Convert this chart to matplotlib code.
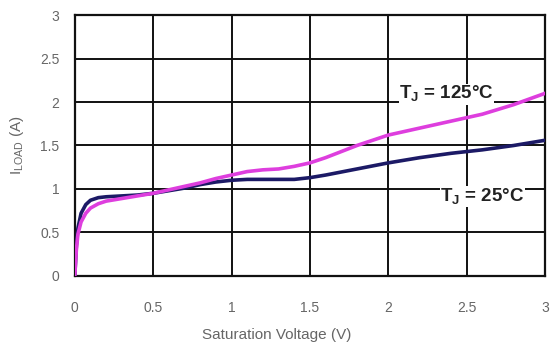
import matplotlib
matplotlib.use("Agg")
import matplotlib.pyplot as plt

plt.rcParams['font.family'] = ['Liberation Sans', 'DejaVu Sans']

# curve data
v_sat = [0, 0.01, 0.02, 0.04, 0.07, 0.1, 0.15, 0.2, 0.3, 0.4, 0.5, 0.6, 0.7,
         0.8, 0.9, 1.0, 1.1, 1.2, 1.3, 1.4, 1.5, 1.6, 1.8, 2.0, 2.2, 2.4,
         2.6, 2.8, 3.0]
i_25c = [0, 0.35, 0.55, 0.72, 0.82, 0.87, 0.9, 0.91, 0.92, 0.93, 0.95, 0.98,
         1.01, 1.05, 1.08, 1.1, 1.11, 1.11, 1.11, 1.11, 1.13, 1.16, 1.23,
         1.3, 1.36, 1.41, 1.45, 1.5, 1.56]
i_125c = [0, 0.3, 0.48, 0.62, 0.72, 0.78, 0.83, 0.86, 0.89, 0.92, 0.95, 0.99,
          1.03, 1.07, 1.12, 1.16, 1.2, 1.22, 1.23, 1.26, 1.3, 1.36, 1.5,
          1.62, 1.7, 1.78, 1.86, 1.97, 2.1]
ticks = [0, 0.5, 1, 1.5, 2, 2.5, 3]
tick_labels = ['0', '0.5', '1', '1.5', '2', '2.5', '3']

fig = plt.figure(figsize=(5.5, 3.51), dpi=100)
ax = fig.add_axes([0.136, 0.214, 0.855, 0.743])

ax.plot(v_sat, i_25c, color='#1c1a66', lw=2.6, zorder=3)
ax.plot(v_sat, i_125c, color='#de3ede', lw=2.6, zorder=4)

ax.set_xlim(0, 3)
ax.set_ylim(0, 3)
ax.set_xticks(ticks)
ax.set_yticks(ticks)
ax.set_xticklabels(tick_labels)
ax.set_yticklabels(tick_labels)
ax.grid(True, color='#111111', lw=1.4)
ax.tick_params(length=0, labelsize=10, labelcolor='#666666')
ax.tick_params(axis='x', pad=18)
ax.tick_params(axis='y', pad=11)
for s in ax.spines.values():
    s.set_color('#111111')
    s.set_linewidth(1.6)

ax.set_xlabel('Saturation Voltage (V)', fontsize=11, color='#666666')
ax.xaxis.set_label_coords(0.43, -0.2)
ax.set_ylabel(r'I$_{\mathregular{LOAD}}$ (A)', fontsize=11, color='#666666',
              labelpad=10)

ax.text(2.07, 2.09, r'T$_{\mathregular{J}}$ = 125°C', fontsize=13.5, fontweight='bold',
        color='#222222', ha='left', va='center', zorder=5,
        bbox=dict(facecolor='white', edgecolor='none', pad=0.3))
ax.text(2.33, 0.91, r'T$_{\mathregular{J}}$ = 25°C', fontsize=13.5, fontweight='bold',
        color='#222222', ha='left', va='center', zorder=5,
        bbox=dict(facecolor='white', edgecolor='none', pad=0.3))

fig.savefig('out.png', dpi=100)
